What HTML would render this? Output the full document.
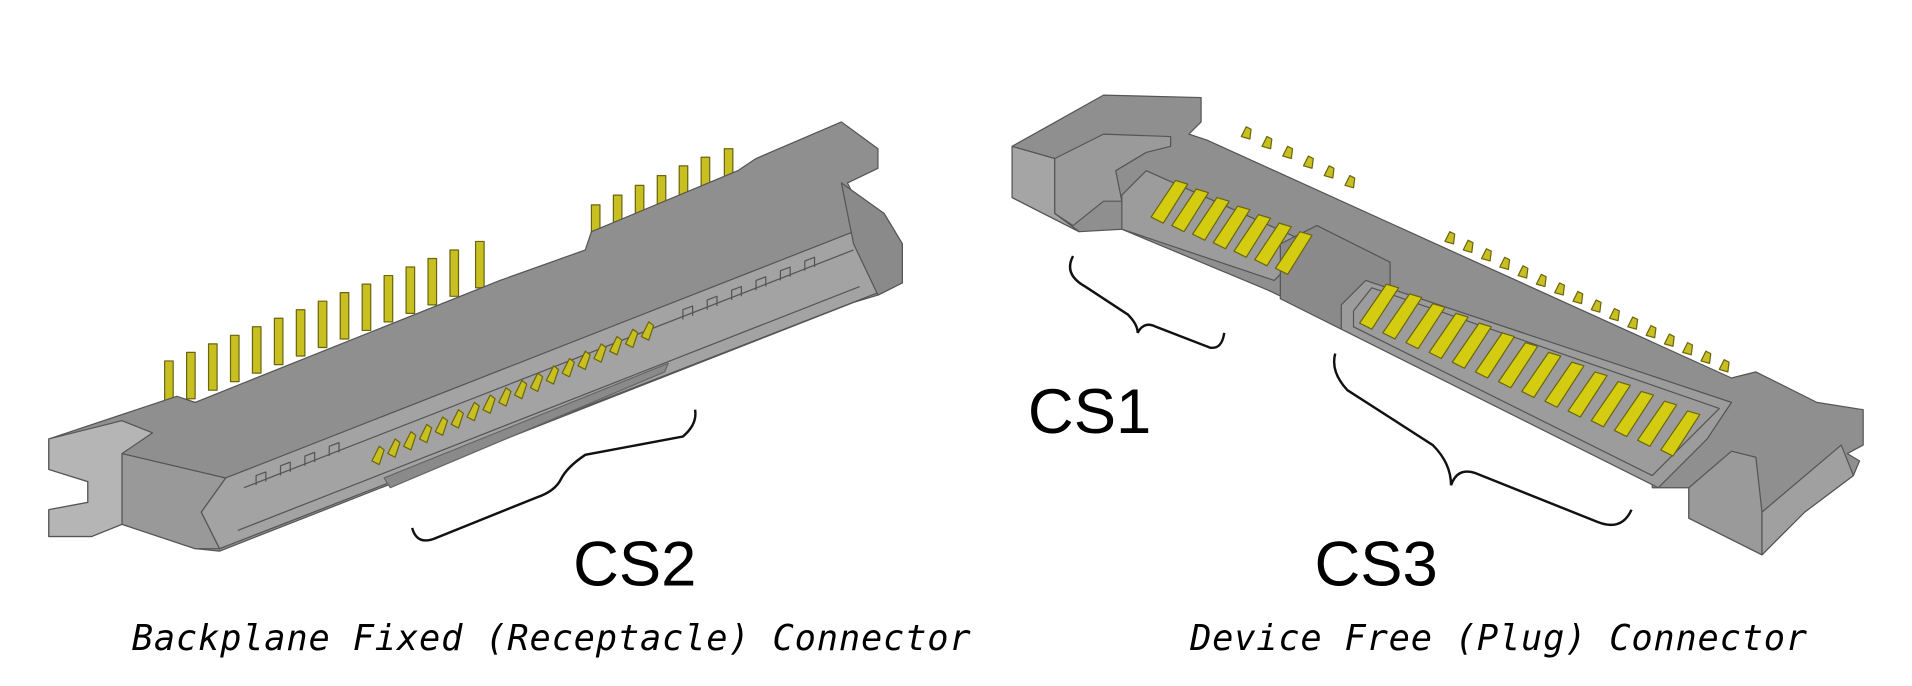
<!DOCTYPE html>
<html><head><meta charset="utf-8"><style>
html,body{margin:0;padding:0;background:#fff;}
svg{display:block}
</style></head><body>
<svg width="1912" height="686" viewBox="0 0 1568 562.6" xmlns="http://www.w3.org/2000/svg">
<g stroke="#555" stroke-width="1" stroke-linejoin="round">
<!-- LEFT CONNECTOR -->
<!-- pins left group -->
<g fill="#c8c020" stroke="#6b6510">
<rect x="135" y="296" width="7" height="38"/>
<rect x="153" y="289" width="7" height="38"/>
<rect x="171" y="282" width="7" height="38"/>
<rect x="189" y="275" width="7" height="38"/>
<rect x="207" y="268" width="7" height="38"/>
<rect x="225" y="261" width="7" height="38"/>
<rect x="243" y="254" width="7" height="38"/>
<rect x="261" y="247" width="7" height="38"/>
<rect x="279" y="240" width="7" height="38"/>
<rect x="297" y="233" width="7" height="38"/>
<rect x="315" y="226" width="7" height="38"/>
<rect x="333" y="219" width="7" height="38"/>
<rect x="351" y="212" width="7" height="38"/>
<rect x="369" y="205" width="7" height="38"/>
<rect x="390" y="198" width="7" height="38"/>
<rect x="485" y="168" width="7" height="30"/>
<rect x="503" y="160" width="7" height="30"/>
<rect x="521" y="152" width="7" height="30"/>
<rect x="539" y="144" width="7" height="30"/>
<rect x="557" y="136" width="7" height="30"/>
<rect x="575" y="129" width="7" height="30"/>
<rect x="594" y="122" width="7" height="30"/>
</g>
<!-- body -->
<polygon fill="#8f8f8f" points="40,360 145,325 160,330 410,230 480,205 485,190 605,140 620,130 690,100 720,122 720,138 695,150 700,160 725,175 740,200 740,232 720,242 700,248 180,452 160,450 100,430 75,440 40,440 40,418 72,412 72,395 40,385"/>
<!-- front face strip -->
<polygon fill="#a3a3a3" points="185,392 700,190 720,205 720,240 180,450 165,420"/>
<polygon fill="#999" points="100,372 185,392 165,420 180,450 160,450 100,430"/>
<polygon fill="#b5b5b5" points="40,360 100,345 125,355 100,372 100,430 75,440 40,440 40,418 72,412 72,395 40,385"/>
<polygon fill="#8a8a8a" points="690,150 725,175 740,200 740,232 720,242 700,200"/>
<line x1="200" y1="400" x2="700" y2="205"/>
<line x1="195" y1="435" x2="705" y2="235"/>
<!-- slots -->
<path fill="none" d="M210,398 l0,-8 8,-3 0,8 M230,390 l0,-8 8,-3 0,8 M250,382 l0,-8 8,-3 0,8 M270,374 l0,-8 8,-3 0,8 M560,262 l0,-8 8,-3 0,8 M580,254 l0,-8 8,-3 0,8 M600,246 l0,-8 8,-3 0,8 M620,238 l0,-8 8,-3 0,8 M640,230 l0,-8 8,-3 0,8 M660,222 l0,-8 8,-3 0,8"/>
<!-- contacts -->
<g fill="#c8c020" stroke="#6b6510">
<path d="M305,378 l6,-12 4,3 -4,12z M318,372 l6,-12 4,3 -4,12z M331,366 l6,-12 4,3 -4,12z M344,360 l6,-12 4,3 -4,12z M357,354 l6,-12 4,3 -4,12z M370,348 l6,-12 4,3 -4,12z M383,342 l6,-12 4,3 -4,12z M396,336 l6,-12 4,3 -4,12z M409,330 l6,-12 4,3 -4,12z M422,324 l6,-12 4,3 -4,12z M435,318 l6,-12 4,3 -4,12z M448,312 l6,-12 4,3 -4,12z M461,306 l6,-12 4,3 -4,12z M474,300 l6,-12 4,3 -4,12z M487,294 l6,-12 4,3 -4,12z M500,288 l6,-12 4,3 -4,12z M513,282 l6,-12 4,3 -4,12z M526,276 l6,-12 4,3 -4,12z"/>
</g>
<polygon fill="#8a8a8a" stroke="#666" points="320,400 545,305 548,298 315,392"/>
<!-- RIGHT CONNECTOR -->
<g fill="#c8c020" stroke="#6b6510">
<path d="M1018,112 l4,-8 4,2 -1,8z M1035,120 l4,-8 4,2 -1,8z M1052,128 l4,-8 4,2 -1,8z M1069,136 l4,-8 4,2 -1,8z M1086,144 l4,-8 4,2 -1,8z M1103,152 l4,-8 4,2 -1,8z"/>
<path d="M1185,198 l4,-8 4,2 -1,8z M1200,205 l4,-8 4,2 -1,8z M1215,212 l4,-8 4,2 -1,8z M1230,219 l4,-8 4,2 -1,8z M1245,226 l4,-8 4,2 -1,8z M1260,233 l4,-8 4,2 -1,8z M1275,240 l4,-8 4,2 -1,8z M1290,247 l4,-8 4,2 -1,8z M1305,254 l4,-8 4,2 -1,8z M1320,261 l4,-8 4,2 -1,8z M1335,268 l4,-8 4,2 -1,8z M1350,275 l4,-8 4,2 -1,8z M1365,282 l4,-8 4,2 -1,8z M1380,289 l4,-8 4,2 -1,8z M1395,296 l4,-8 4,2 -1,8z M1410,303 l4,-8 4,2 -1,8z"/>
</g>
<polygon fill="#8f8f8f" points="830,120 905,78 985,80 985,100 975,110 990,115 1420,310 1440,305 1490,330 1528,336 1528,365 1515,372 1525,378 1520,390 1480,420 1445,455 1385,425 1385,400 1355,400 1355,390 1040,238 920,188 885,190 830,162"/>
<polygon fill="#a5a5a5" points="830,120 865,130 865,175 885,190 830,162"/>
<polygon fill="#9a9a9a" points="865,130 905,110 960,112 960,120 940,125 915,140 920,165 905,165 880,185 865,175"/>
<!-- CS1 cavity -->
<polygon fill="#9c9c9c" points="920,160 940,140 1075,200 1045,230 920,188"/>
<!-- middle block -->
<polygon fill="#8a8a8a" points="1050,200 1080,185 1140,215 1140,260 1100,270 1050,245"/>
<!-- CS3 cavity -->
<polygon fill="#9c9c9c" points="1100,250 1120,230 1420,330 1400,360 1360,400 1100,270"/>
<polygon fill="none" points="1110,255 1125,236 1410,335 1355,390 1110,268"/>
<g fill="#d4cc10" stroke="#6b6510">
<path d="M944,178 l20,-30 10,3 -20,32z M961,185 l20,-30 10,3 -20,32z M978,192 l20,-30 10,3 -20,32z M995,199 l20,-30 10,3 -20,32z M1012,206 l20,-30 10,3 -20,32z M1029,213 l20,-30 10,3 -20,32z M1046,220 l20,-30 10,3 -20,32z"/>
<path d="M1115,265 l22,-32 10,3 -22,34z M1134,273 l22,-32 10,3 -22,34z M1153,281 l22,-32 10,3 -22,34z M1172,289 l22,-32 10,3 -22,34z M1191,297 l22,-32 10,3 -22,34z M1210,305 l22,-32 10,3 -22,34z M1229,313 l22,-32 10,3 -22,34z M1248,321 l22,-32 10,3 -22,34z M1267,329 l22,-32 10,3 -22,34z M1286,337 l22,-32 10,3 -22,34z M1305,345 l22,-32 10,3 -22,34z M1324,353 l22,-32 10,3 -22,34z M1343,361 l22,-32 10,3 -22,34z M1362,369 l22,-32 10,3 -22,34z"/>
</g>
<polygon fill="#9a9a9a" points="1385,400 1420,370 1440,375 1445,420 1445,455 1385,425"/>
<polygon fill="#a0a0a0" points="1445,420 1510,365 1520,390 1480,420 1445,455"/>
</g>
<!-- braces -->
<g fill="none" stroke="#111" stroke-width="2">
<path d="M338,433 q4,15 20,8 L440,408 q15,-5 20,-15 q5,-10 20,-20 L560,358 q12,-10 10,-22"/>
<path d="M880,210 q-8,15 10,25 L925,258 q8,8 8,15 q5,-10 15,-5 L992,285 q10,2 12,-12"/>
<path d="M1095,290 q-4,15 10,30 L1175,365 q15,15 15,33 q5,-15 20,-10 L1310,428 q20,8 28,-10"/>
</g>
<g font-family="'Liberation Sans',sans-serif" font-size="52" fill="#000">
<text x="470" y="480">CS2</text>
<text x="843" y="355">CS1</text>
<text x="1078" y="480">CS3</text>
</g>
<g font-family="'DejaVu Sans Mono','Liberation Mono',monospace" font-style="italic" font-size="29" fill="#000">
<text x="108" y="533" textLength="688">Backplane Fixed (Receptacle) Connector</text>
<text x="976" y="533" textLength="506">Device Free (Plug) Connector</text>
</g>
</svg>
</body></html>
